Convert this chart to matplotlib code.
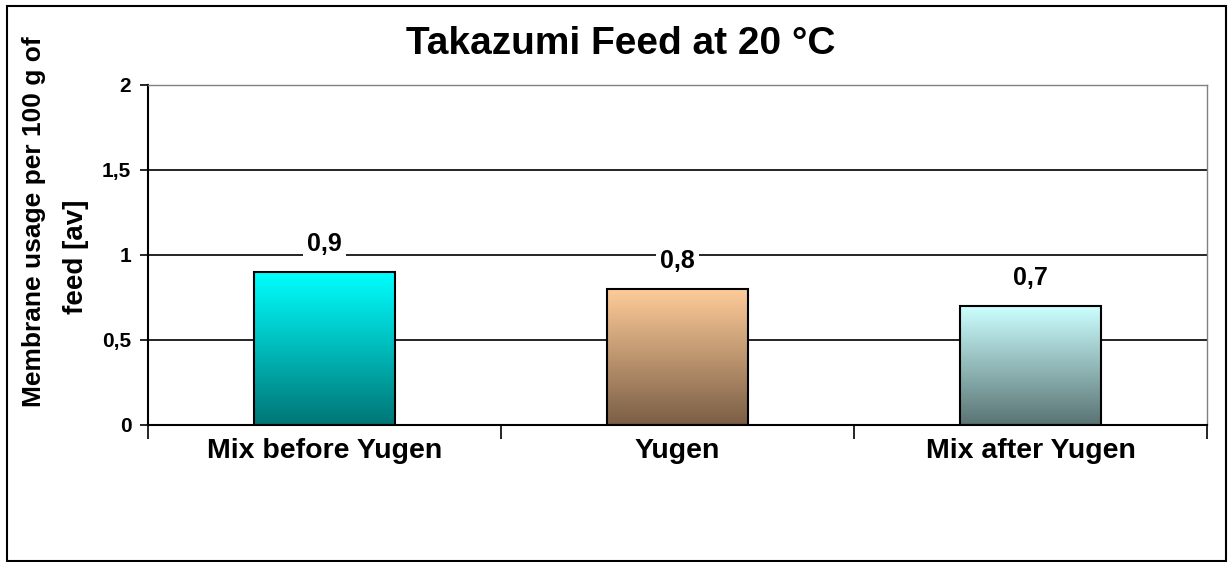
import numpy as np
import matplotlib.pyplot as plt
from matplotlib.colors import LinearSegmentedColormap
from matplotlib.patches import Rectangle

plt.rcParams['font.family'] = ['Liberation Sans', 'DejaVu Sans']
plt.rcParams['font.weight'] = 'bold'

categories = ['Mix before Yugen', 'Yugen', 'Mix after Yugen']
values = [0.9, 0.8, 0.7]
labels = ['0,9', '0,8', '0,7']
top_colors = ['#00FFFF', '#FFCC99', '#CCFFFF']
bottom_colors = ['#007575', '#7A5E45', '#5A7373']
yticks = [0, 0.5, 1, 1.5, 2]
ytick_labels = ['0', '0,5', '1', '1,5', '2']
ylabel_lines = ['Membrane usage per 100 g of', 'feed [av]']

fig = plt.figure(figsize=(12.3, 5.62), dpi=100)
ax = fig.add_axes([148 / 1230, 1 - 425 / 562, (1207 - 148) / 1230, (425 - 85) / 562])

x = np.arange(len(categories))
bars = ax.bar(x, values, width=0.4, facecolor='none', edgecolor='black', linewidth=1.5, zorder=3)

# vertical gradient inside each bar
grad = np.linspace(0, 1, 256).reshape(-1, 1)
for b, c_top, c_bot, lab in zip(bars, top_colors, bottom_colors, labels):
    cmap = LinearSegmentedColormap.from_list('g', [c_bot, c_top])
    x0, w, h = b.get_x(), b.get_width(), b.get_height()
    ax.imshow(grad, cmap=cmap, origin='lower', aspect='auto',
              extent=[x0, x0 + w, 0, h], zorder=2)
    ax.annotate(lab, (x0 + w / 2, h), xytext=(0, 20), textcoords='offset points',
                ha='center', va='center', fontsize=18, fontweight='bold',
                bbox=dict(facecolor='white', edgecolor='none', pad=3), zorder=4)

ax.set_xlim(-0.5, len(categories) - 0.5)
ax.set_ylim(0, 2)
ax.set_yticks(yticks)
ax.set_yticklabels(ytick_labels, fontsize=15, fontweight='bold')
ax.set_xticks(x)
ax.set_xticklabels(categories, fontsize=20.5, fontweight='bold')
ax.set_xticks(np.arange(-0.5, len(categories)), minor=True)
ax.tick_params(axis='x', which='major', length=0, pad=9)
ax.tick_params(axis='x', which='minor', length=10, width=1.2, direction='out')
ax.tick_params(axis='y', length=6, width=1.2, direction='out', pad=6)
ax.yaxis.grid(True, color='black', linewidth=1.2, zorder=1)
ax.set_axisbelow(True)

for s in ['left', 'bottom']:
    ax.spines[s].set_color('black')
    ax.spines[s].set_linewidth(1.5)
for s in ['top', 'right']:
    ax.spines[s].set_color('#808080')
    ax.spines[s].set_linewidth(1)

# y label as two rotated lines, placed like the original
fig.text(34 / 1230, 1 - 222 / 562, ylabel_lines[0], rotation=90, ha='center', va='center',
         fontsize=19, fontweight='bold')
fig.text(76 / 1230, 1 - 257 / 562, ylabel_lines[1], rotation=90, ha='center', va='center',
         fontsize=20, fontweight='bold')

fig.text(621 / 1230, 1 - 44 / 562, 'Takazumi Feed at 20 °C', ha='center', va='center',
         fontsize=28, fontweight='bold')

fig.patches.append(Rectangle((7 / 1230, 1 / 562), 1219 / 1230, 555 / 562,
                             transform=fig.transFigure, fill=False,
                             edgecolor='black', linewidth=1.5))

plt.savefig('out.png', dpi=100)
